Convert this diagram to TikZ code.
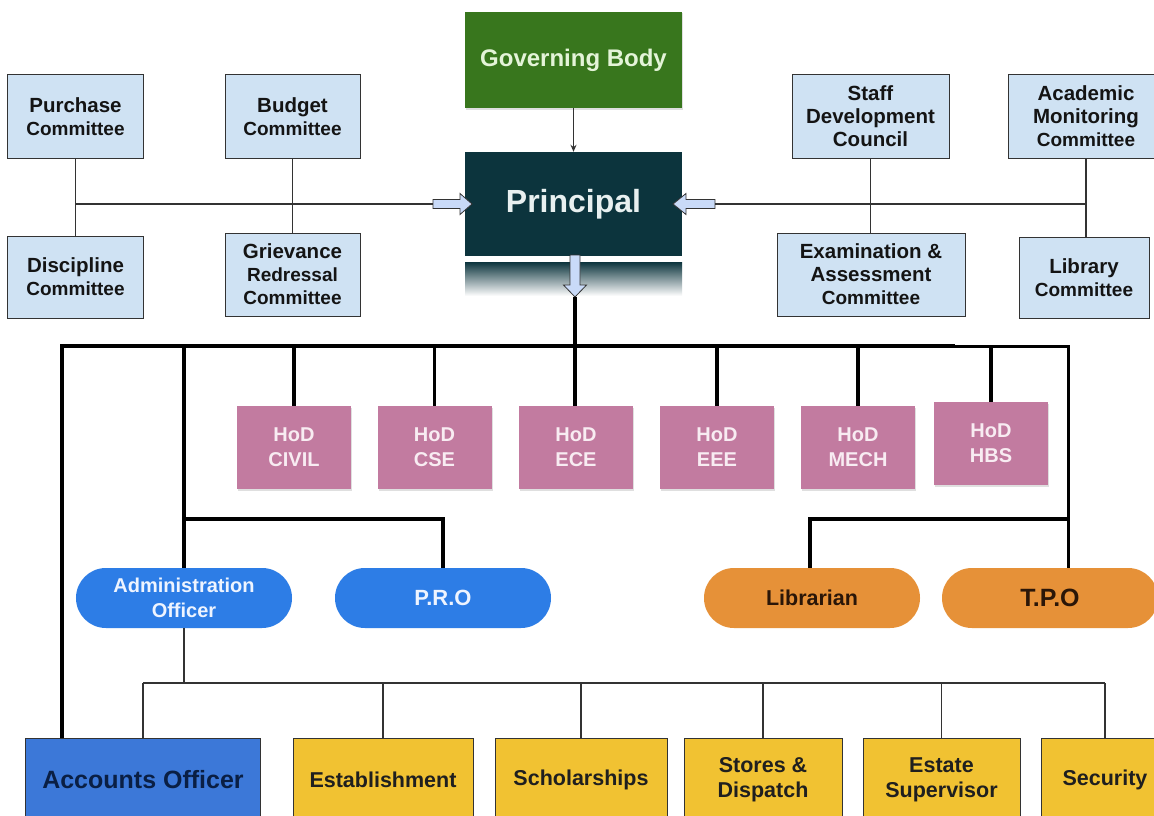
\documentclass[tikz,border=0pt]{standalone}
\usepackage{fontspec}
\setmainfont{Liberation Sans}
\usetikzlibrary{shadows,arrows.meta,calc}
\definecolor{commfill}{HTML}{CFE2F3}
\definecolor{linegray}{HTML}{333333}
\definecolor{gbgreen}{HTML}{38761D}
\definecolor{gbtext}{HTML}{E4F4D8}
\definecolor{princ}{HTML}{0C343D}
\definecolor{princtext}{HTML}{E8F0F0}
\definecolor{hodfill}{HTML}{C27BA0}
\definecolor{hodtext}{HTML}{F8ECF2}
\definecolor{ovblue}{HTML}{2D7DE6}
\definecolor{ovbluetext}{HTML}{EEF4FF}
\definecolor{ovorange}{HTML}{E69138}
\definecolor{ovorangetext}{HTML}{2A1608}
\definecolor{accblue}{HTML}{3C78D8}
\definecolor{acctext}{HTML}{0A1F44}
\definecolor{yelfill}{HTML}{F1C232}
\definecolor{arrowfill}{HTML}{C9DAF8}
\newcommand{\smc}[1]{{\fontsize{19bp}{23bp}\selectfont #1}}
\begin{document}
\begin{tikzpicture}[x=1bp,y=-1bp,
  comm/.style={draw=linegray, line width=1bp, fill=commfill, align=center,
    inner sep=0pt, text=black!92,
    font=\fontsize{20.5bp}{23bp}\selectfont\bfseries},
  hod/.style={fill=hodfill, text=hodtext, align=center, inner sep=0pt,
    minimum width=114bp, minimum height=83bp,
    font=\fontsize{20bp}{25bp}\selectfont\bfseries,
    drop shadow={shadow xshift=1.2bp, shadow yshift=-1.5bp, opacity=.25}},
  ovalb/.style={fill=ovblue, text=ovbluetext, align=center, inner sep=0pt,
    minimum width=216bp, minimum height=60bp, rounded corners=29.9bp,
    font=\fontsize{20bp}{25bp}\selectfont\bfseries},
  ovalo/.style={fill=ovorange, text=ovorangetext, align=center, inner sep=0pt,
    minimum width=216bp, minimum height=60bp, rounded corners=29.9bp,
    font=\fontsize{21.5bp}{25bp}\selectfont\bfseries},
  ybox/.style={draw=linegray, line width=1bp, fill=yelfill, align=center,
    inner sep=0pt, minimum height=84bp, text=black!88,
    font=\fontsize{21.5bp}{25bp}\selectfont\bfseries},
  thinline/.style={draw=linegray, line width=1.3bp},
  thickline/.style={draw=black, line width=3.6bp},
  medline/.style={draw=black, line width=3bp},
  blockarrow/.style={draw=linegray, line width=0.8bp, fill=arrowfill, line join=miter}
]
\useasboundingbox (0,0) rectangle (1154,816);
\clip (0,0) rectangle (1154,816);
\fill[white] (0,0) rectangle (1154,816);

% committees left
\node[comm, minimum width=135bp, minimum height=83bp] (pc) at (75.5,116.5) {Purchase\\\smc{Committee}};
\node[comm, minimum width=135bp, minimum height=83bp] (bc) at (292.5,116.5) {Budget\\\smc{Committee}};
\node[comm, minimum width=135bp, minimum height=82bp] (dc) at (75.5,277) {Discipline\\\smc{Committee}};
\node[comm, minimum width=135bp, minimum height=83bp] (gc) at (292.5,274.5) {Grievance\\\smc{Redressal}\\\smc{Committee}};
% committees right
\node[comm, minimum width=157bp, minimum height=83bp] (sd) at (870.5,116.5) {Staff\\Development\\Council};
\node[comm, minimum width=156bp, minimum height=83bp] (am) at (1086,116.5) {Academic\\Monitoring\\\smc{Committee}};
\node[comm, minimum width=188bp, minimum height=83bp] (ex) at (871,274.5) {Examination \&\\Assessment\\\smc{Committee}};
\node[comm, minimum width=130bp, minimum height=81bp] (lc) at (1084,277.5) {Library\\\smc{Committee}};

% governing body and principal
\node[fill=gbgreen, text=gbtext, minimum width=217bp, minimum height=96bp, inner sep=0pt,
  font=\fontsize{24bp}{28bp}\selectfont\bfseries,
  drop shadow={shadow xshift=1.2bp, shadow yshift=-1.5bp, opacity=.25}] (gb) at (573.5,60) {Governing Body};
\node[fill=princ, text=princtext, minimum width=217bp, minimum height=104bp, inner sep=0pt,
  font=\fontsize{32bp}{36bp}\selectfont\bfseries] (pr) at (573.5,204) {Principal};
\shade[top color=princ, middle color=princ!72, bottom color=white] (465,262) rectangle (682,296);

\draw[thinline, -{Stealth[length=7bp,width=6bp]}] (gb.south) -- (pr.north);

% block arrows
\draw[blockarrow] (433,199.5) -- (460,199.5) -- (460,193.5) -- (472,204) -- (460,214.5) -- (460,208.5) -- (433,208.5) -- cycle;
\coordinate (la) at (433,204);
\draw[blockarrow] (715,199.5) -- (686,199.5) -- (686,193.5) -- (673,204) -- (686,214.5) -- (686,208.5) -- (715,208.5) -- cycle;
\coordinate (ra) at (715,204);
\draw[blockarrow] (570,255) -- (580,255) -- (580,285) -- (586.5,285) -- (575,297) -- (563.5,285) -- (570,285) -- cycle;
\coordinate (da) at (575,297);

% committee lines
\draw[thinline] (pc.south) -- (dc.north);
\draw[thinline] (bc.south) -- (gc.north);
\draw[thinline] (pc.south |- la) -- (la);
\draw[thinline] (sd.south) -- (sd.south |- ex.north);
\draw[thinline] (am.south) -- (am.south |- lc.north);
\draw[thinline] (ra) -- (am.south |- ra);

% HoDs
\node[hod] (hcivil) at (294,447.5) {HoD\\CIVIL};
\node[hod] (hcse) at (434.5,447.5) {HoD\\CSE};
\node[hod] (hece) at (576,447.5) {HoD\\ECE};
\node[hod] (heee) at (717,447.5) {HoD\\EEE};
\node[hod] (hmech) at (858,447.5) {HoD\\MECH};
\node[hod] (hhbs) at (991,443.5) {HoD\\HBS};

% ovals
\node[ovalb] (adm) at (184,598) {Administration\\Officer};
\node[ovalb, font=\fontsize{22bp}{25bp}\selectfont\bfseries] (pro) at (443,598) {P.R.O};
\node[ovalo] (lib) at (812,598) {Librarian};
\node[ovalo, font=\fontsize{25bp}{28bp}\selectfont\bfseries] (tpo) at (1050,598) {T.P.O};

% bottom boxes
\node[draw=linegray, line width=1bp, fill=accblue, text=acctext, inner sep=0pt,
  minimum width=234bp, minimum height=84bp,
  font=\fontsize{25bp}{28bp}\selectfont\bfseries] (acc) at (143,780) {Accounts Officer};
\node[ybox, minimum width=180bp] (est) at (383,780) {Establishment};
\node[ybox, minimum width=172bp] (sch) at (581,780) {Scholarships};
\node[ybox, minimum width=158bp] (sto) at (763,780) {Stores \&\\Dispatch};
\node[ybox, minimum width=157bp] (esu) at (941.5,780) {Estate\\Supervisor};
\node[ybox, minimum width=128bp] (sec) at (1105,780) {Security};

% junctions
\coordinate (jL) at (62,346);
\coordinate (jA) at (184,346);
\coordinate (jS) at (575,346);
\coordinate (jE) at (955,346);
\coordinate (jR) at (1068,346);
\coordinate (jP) at (184,519);
\coordinate (jT) at (1068,519);
\coordinate (jB) at (184,683);

% thick tree
\draw[thickline] (da) -- (jS) -- (jS |- hece.north);
\draw[thickline, line join=miter] (jL |- acc.north) -- (jL) -- (jE);
\draw[medline, line join=miter] (jE) -- (jR) -- (jR |- tpo.north);
\foreach \h in {hcivil,hcse,heee,hmech,hhbs}
  \draw[thickline] (\h.north |- jS) -- (\h.north);
\draw[thickline] (jA) -- (jA |- adm.north);
\draw[thickline, line join=miter] (jP) -- (jP -| pro.north) -- (pro.north);
\draw[thickline, line join=miter] (jT) -- (jT -| 810,0) -- (810,0 |- lib.north);

% bottom tree
\draw[thinline] (adm.south) -- (jB);
\draw[thinline] (acc.north |- jB) -- (sec.north |- jB);
\foreach \b in {acc,est,sch,sto,esu,sec}
  \draw[thinline] (\b.north |- jB) -- (\b.north);
\end{tikzpicture}
\end{document}
